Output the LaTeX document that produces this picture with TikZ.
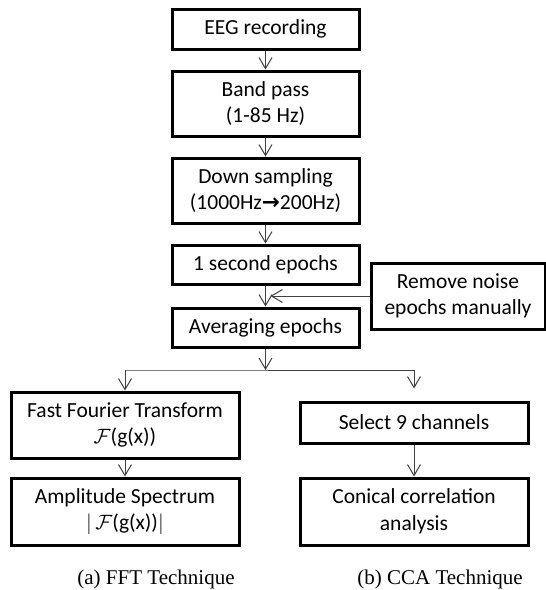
\documentclass[tikz,border=0pt]{standalone}
\usepackage{fontspec}
\setmainfont{Carlito}
\newfontfamily\capfont{Liberation Serif}
\newfontfamily\arrfont{DejaVu Sans}
\usetikzlibrary{arrows.meta,calc}
\begin{document}
\begin{tikzpicture}[x=1pt,y=-1pt,
  box/.style={draw=black,line width=3pt,minimum width=187pt,align=center,inner sep=0pt,
    font=\fontsize{21.5}{26.5}\selectfont},
  conn/.style={draw=black!75,line width=1pt,-{Straight Barb[length=11pt,width=13pt,line width=1pt]}},
  captext/.style={font=\capfont\fontsize{21}{25}\selectfont}]
\useasboundingbox (0,0) rectangle (546,590);
\node[box,minimum height=40pt] (eeg) at (265.5,29) {EEG recording};
\node[box,minimum height=65pt] (band) at (265.5,103.5) {Band pass\\(1-85 Hz)};
\node[box,minimum height=65pt] (down) at (265.5,190.5) {Down sampling\\(1000Hz{\arrfont\bfseries →}200Hz)};
\node[box,minimum height=39pt] (sec) at (265.5,264.5) {1 second epochs};
\node[box,minimum height=39pt] (avg) at (265.5,327.5) {Averaging epochs};
\node[box,minimum width=174pt,minimum height=66pt] (rem) at (458,296) {Remove noise\\epochs manually};
\node[box,minimum width=228pt,minimum height=66pt] (fft) at (125,425) {Fast Fourier Transform\\$\mathcal{F}$(g(x))};
\node[box,minimum width=228pt,minimum height=67pt] (amp) at (125,511.5) {Amplitude Spectrum\\$|\,\mathcal{F}$(g(x))$|$};
\node[box,minimum width=228pt,minimum height=41pt] (sel) at (414,422.5) {Select 9 channels};
\node[box,minimum width=228pt,minimum height=67pt] (con) at (414,511.5) {Conical correlation\\analysis};
\node[captext] (capa) at (156,579) {(a) FFT Technique};
\node[captext] (capb) at (440,579) {(b) CCA Technique};
\coordinate (split) at (265.5,370);
\coordinate (mid) at ($(sec.south)!0.5!(avg.north)$);
\draw[conn] (eeg) -- (band);
\draw[conn] (band) -- (down);
\draw[conn] (down) -- (sec);
\draw[conn] (sec) -- (avg);
\draw[conn] (rem.west) -- ([xshift=5pt]mid);
\draw[conn] (avg) -- (split);
\draw[draw=black!75,line width=1pt] (split) -- (fft.north |- split) -- (sel.north |- split);
\draw[conn] (fft.north |- split) -- (fft.north);
\draw[conn] (sel.north |- split) -- ([yshift=12pt]sel.north);
\draw[conn] (fft) -- (amp);
\draw[conn] (sel) -- (con);
\end{tikzpicture}
\end{document}
